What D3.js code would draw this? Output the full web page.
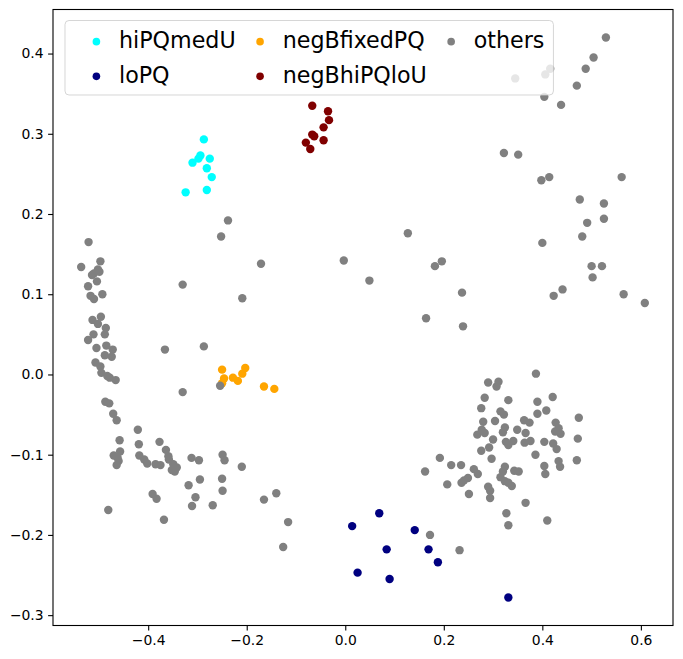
<!DOCTYPE html>
<html>
<head>
<meta charset="utf-8">
<script src="https://cdn.jsdelivr.net/npm/d3@7"></script>
<style>
  body { margin: 0; background: #fff; }
  svg { display: block; font-family: "DejaVu Sans", sans-serif; }
</style>
</head>
<body>
<svg id="chart" width="683" height="659"></svg>
<script>
// points, [x, y]
var hiPQmedU = [
    [-0.287, 0.293], [-0.294, 0.273], [-0.298, 0.269], [-0.310, 0.264], [-0.275, 0.269],
    [-0.281, 0.257], [-0.271, 0.246], [-0.324, 0.227], [-0.281, 0.230]
];
var loPQ = [
    [0.069, -0.173], [0.014, -0.189], [0.141, -0.194], [0.084, -0.218], [0.169, -0.218],
    [0.188, -0.234], [0.025, -0.247], [0.090, -0.255], [0.331, -0.278]
];
var negBfixedPQ = [
    [-0.250, 0.006], [-0.246, -0.005], [-0.250, -0.011], [-0.228, -0.004], [-0.218, -0.008],
    [-0.209, 0.001], [-0.203, 0.008], [-0.165, -0.015], [-0.144, -0.018]
];
var negBhiPQloU = [
    [-0.067, 0.335], [-0.035, 0.328], [-0.033, 0.317], [-0.044, 0.308], [-0.067, 0.299],
    [-0.063, 0.297], [-0.044, 0.292], [-0.080, 0.289], [-0.071, 0.281]
];
var others = [
    // left arm
    [-0.521, 0.165], [-0.497, 0.141], [-0.536, 0.134], [-0.502, 0.131], [-0.510, 0.126],
    [-0.514, 0.124], [-0.499, 0.128], [-0.504, 0.116], [-0.522, 0.110], [-0.493, 0.100],
    [-0.517, 0.098], [-0.510, 0.094], [-0.513, 0.068], [-0.496, 0.072], [-0.502, 0.063],
    [-0.486, 0.058], [-0.511, 0.050], [-0.488, 0.050], [-0.522, 0.043], [-0.505, 0.033],
    [-0.485, 0.036], [-0.472, 0.031], [-0.488, 0.024], [-0.474, 0.022], [-0.507, 0.015],
    [-0.497, 0.010], [-0.495, 0.002], [-0.483, -0.002], [-0.478, -0.004], [-0.466, -0.007],
    [-0.487, -0.034], [-0.479, -0.036], [-0.471, -0.049], [-0.464, -0.057], [-0.421, -0.069],
    [-0.458, -0.082], [-0.419, -0.087], [-0.377, -0.084], [-0.364, -0.094], [-0.359, -0.102],
    [-0.358, -0.106], [-0.457, -0.096], [-0.470, -0.101], [-0.462, -0.104], [-0.460, -0.108],
    [-0.464, -0.113], [-0.418, -0.101], [-0.408, -0.106], [-0.402, -0.111], [-0.385, -0.112],
    [-0.375, -0.113], [-0.349, -0.112], [-0.342, -0.116], [-0.352, -0.119], [-0.346, -0.121],
    [-0.312, -0.104], [-0.297, -0.107], [-0.249, -0.100], [-0.245, -0.107], [-0.210, -0.115],
    [-0.318, -0.138], [-0.295, -0.131], [-0.250, -0.130], [-0.249, -0.145], [-0.391, -0.149],
    [-0.383, -0.155], [-0.304, -0.153], [-0.311, -0.164], [-0.269, -0.163], [-0.481, -0.169],
    [-0.368, -0.181], [-0.165, -0.156], [-0.140, -0.148], [-0.116, -0.184], [-0.126, -0.215],
    // middle
    [-0.238, 0.192], [-0.252, 0.172], [-0.171, 0.138], [-0.330, 0.112], [-0.209, 0.095],
    [-0.287, 0.035], [-0.366, 0.031], [-0.330, -0.022], [-0.254, -0.014], [-0.003, 0.142],
    [0.049, 0.117], [0.127, 0.176], [0.182, 0.135], [0.196, 0.141], [0.237, 0.102],
    [0.164, 0.070], [0.239, 0.060],
    // upper right
    [0.529, 0.420], [0.504, 0.395], [0.488, 0.381], [0.416, 0.381], [0.406, 0.374],
    [0.345, 0.369], [0.470, 0.360], [0.404, 0.346], [0.438, 0.336], [0.322, 0.276],
    [0.351, 0.274], [0.398, 0.242], [0.414, 0.246], [0.561, 0.246], [0.476, 0.218],
    [0.525, 0.213], [0.525, 0.194], [0.491, 0.189], [0.481, 0.172], [0.400, 0.164],
    [0.500, 0.135], [0.521, 0.135], [0.502, 0.121], [0.423, 0.098], [0.441, 0.106],
    [0.565, 0.100], [0.608, 0.089],
    // lower right cluster
    [0.387, 0.001], [0.290, -0.010], [0.311, -0.009], [0.307, -0.015], [0.283, -0.029],
    [0.331, -0.032], [0.390, -0.034], [0.421, -0.028], [0.276, -0.042], [0.315, -0.046],
    [0.322, -0.050], [0.390, -0.049], [0.408, -0.045], [0.474, -0.054], [0.280, -0.059],
    [0.304, -0.058], [0.363, -0.057], [0.374, -0.060], [0.427, -0.060], [0.433, -0.067],
    [0.426, -0.071], [0.437, -0.074], [0.324, -0.066], [0.320, -0.072], [0.277, -0.069],
    [0.283, -0.073], [0.268, -0.075], [0.349, -0.069], [0.366, -0.073], [0.300, -0.081],
    [0.326, -0.084], [0.331, -0.088], [0.341, -0.083], [0.364, -0.085], [0.376, -0.083],
    [0.404, -0.084], [0.422, -0.086], [0.429, -0.093], [0.472, -0.080], [0.292, -0.091],
    [0.276, -0.095], [0.386, -0.100], [0.297, -0.105], [0.192, -0.104], [0.215, -0.113],
    [0.235, -0.113], [0.470, -0.107], [0.433, -0.108], [0.436, -0.115], [0.404, -0.114],
    [0.406, -0.124], [0.162, -0.121], [0.261, -0.118], [0.269, -0.124], [0.324, -0.115],
    [0.320, -0.121], [0.315, -0.128], [0.324, -0.133], [0.331, -0.135], [0.338, -0.139],
    [0.343, -0.120], [0.352, -0.121], [0.249, -0.129], [0.241, -0.132], [0.236, -0.135],
    [0.207, -0.137], [0.290, -0.140], [0.294, -0.145], [0.251, -0.149], [0.294, -0.154],
    [0.366, -0.160], [0.327, -0.173], [0.331, -0.188], [0.410, -0.182], [0.172, -0.200],
    [0.232, -0.219]
];

var labels = ["hiPQmedU", "loPQ", "negBfixedPQ", "negBhiPQloU", "others"];
var colors = ["#00ffff", "#000080", "#ffa500", "#800000", "#808080"];
var groups = [hiPQmedU, loPQ, negBfixedPQ, negBhiPQloU, others];

var xTicks = [-0.4, -0.2, 0.0, 0.2, 0.4, 0.6];
var yTicks = [-0.3, -0.2, -0.1, 0.0, 0.1, 0.2, 0.3, 0.4];

var svg = d3.select("#chart");

// axes box (matplotlib 8x8 figure, tight crop)
var axL = 53, axR = 673, axT = 9.5, axB = 625.5;

var all = d3.merge(groups);
// 5% margins like matplotlib autoscale
function padded(ext) {
    var p = (ext[1] - ext[0]) * 0.05;
    return [ext[0] - p, ext[1] + p];
}
var x = d3.scaleLinear().domain(padded(d3.extent(all, function(d) { return d[0]; }))).range([axL, axR]);
var y = d3.scaleLinear().domain(padded(d3.extent(all, function(d) { return d[1]; }))).range([axB, axT]);

var fmt = d3.format(".1f");

// points, drawn group by group so "others" lands on top
groups.forEach(function(pts, i) {
    svg.append("g").selectAll("circle").data(pts).enter()
        .append("circle")
            .attr("cx", function(d) { return x(d[0]); })
            .attr("cy", function(d) { return y(d[1]); })
            .attr("r", 4.2)
            .attr("fill", colors[i]);
});

// axes
var xAxis = svg.append("g")
    .attr("transform", "translate(0," + axB + ")")
    .call(d3.axisBottom(x).tickValues(xTicks).tickFormat(fmt).tickSize(4.9).tickPadding(4.5));
var yAxis = svg.append("g")
    .attr("transform", "translate(" + axL + ",0)")
    .call(d3.axisLeft(y).tickValues(yTicks).tickFormat(fmt).tickSize(4.9).tickPadding(4.5));

[xAxis, yAxis].forEach(function(a) {
    a.select(".domain").remove();
    a.selectAll("line").attr("stroke", "#000").attr("stroke-width", 1.1);
    a.selectAll("text").attr("font-size", "13.9px").attr("fill", "#000")
        .attr("font-family", "DejaVu Sans");
});

// frame
svg.append("rect")
    .attr("x", axL).attr("y", axT)
    .attr("width", axR - axL).attr("height", axB - axT)
    .attr("fill", "none").attr("stroke", "#000").attr("stroke-width", 1.1);

// legend, 3 columns, filled column-wise
var fs = 22.2;
var legend = svg.append("g");
var box = legend.append("rect")
    .attr("x", 65).attr("y", 20.5)
    .attr("rx", 4).attr("ry", 4)
    .attr("fill", "#fff").attr("fill-opacity", 0.8)
    .attr("stroke", "#cccccc").attr("stroke-opacity", 0.8);

var rowBase = [48.3, 83];
var colStart = 74;
var ncol = 3, nrow = 2;
var rightEdge = 0;
for (var c = 0; c < ncol; c++) {
    var widest = 0;
    for (var r = 0; r < nrow; r++) {
        var k = c * nrow + r;
        if (k >= labels.length) break;
        legend.append("circle")
            .attr("cx", colStart + 22.4)
            .attr("cy", rowBase[r] - 0.3 * fs)
            .attr("r", 3.8)
            .attr("fill", colors[k]);
        var t = legend.append("text")
            .attr("x", colStart + 45)
            .attr("y", rowBase[r])
            .attr("font-size", fs + "px")
            .attr("fill", "#000")
            .text(labels[k]);
        widest = Math.max(widest, t.node().getComputedTextLength());
    }
    rightEdge = colStart + 45 + widest;
    // next column begins right after the widest label
    colStart = rightEdge + 2;
}
box.attr("width", rightEdge + 9 - 65).attr("height", 95 - 20.5);
</script>
</body>
</html>
